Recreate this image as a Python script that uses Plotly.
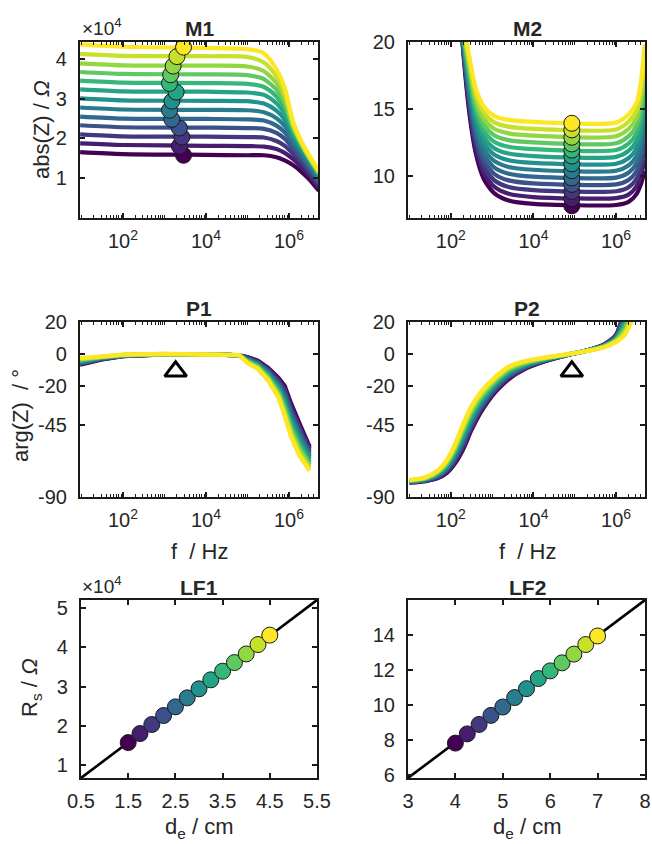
import numpy as np
import plotly.graph_objects as go
from plotly.colors import sample_colorscale

W, H = 652, 844
FONT = "Liberation Sans, Arial, sans-serif"
INK = "#1a1a1a"

# electrode distance (cm) and series resistance read at the marked frequency
de1 = [1.5, 1.75, 2.0, 2.25, 2.5, 2.75, 3.0, 3.25, 3.5, 3.75, 4.0, 4.25, 4.5]
rs1 = [1.57, 1.80, 2.03, 2.26, 2.48, 2.71, 2.94, 3.17, 3.39, 3.61, 3.83, 4.07, 4.31]  # x1e4 Ohm
de2 = [4.0, 4.25, 4.5, 4.75, 5.0, 5.25, 5.5, 5.75, 6.0, 6.25, 6.5, 6.75, 7.0]
rs2 = [7.81, 8.34, 8.88, 9.40, 9.88, 10.42, 10.93, 11.51, 11.95, 12.41, 12.91, 13.46, 13.95]  # Ohm

# frequency (Hz) where Rs was picked
f_rs1 = [2880, 2290, 2630, 2290, 1510, 1320, 1510, 1910, 1320, 1410, 1620, 2000, 2880]
f_rs2 = 8.5e4
f_tri1 = 1.86e3
f_tri2 = 8.5e4
tri_phase = -11

# M1: |Z| (x1e4 Ohm), purple -> yellow
f_m1 = [9.3, 100, 1e4, 1e5, 2.5e5, 5.0e5, 7.9e5, 1.26e6, 2.0e6, 3.16e6, 5.25e6]
m1 = [
    [1.65, 1.60, 1.58, 1.57, 1.57, 1.52, 1.44, 1.32, 1.15, 0.95, 0.67],
    [1.87, 1.83, 1.81, 1.80, 1.79, 1.73, 1.63, 1.47, 1.27, 1.04, 0.75],
    [2.10, 2.05, 2.04, 2.03, 2.02, 1.93, 1.81, 1.61, 1.38, 1.13, 0.82],
    [2.33, 2.28, 2.27, 2.26, 2.24, 2.14, 1.99, 1.74, 1.48, 1.21, 0.88],
    [2.55, 2.50, 2.49, 2.48, 2.45, 2.32, 2.15, 1.85, 1.57, 1.28, 0.93],
    [2.78, 2.73, 2.72, 2.71, 2.66, 2.51, 2.31, 1.96, 1.65, 1.34, 0.98],
    [3.01, 2.96, 2.95, 2.94, 2.88, 2.70, 2.47, 2.06, 1.72, 1.40, 1.03],
    [3.24, 3.19, 3.18, 3.16, 3.10, 2.89, 2.62, 2.15, 1.78, 1.44, 1.07],
    [3.46, 3.41, 3.40, 3.38, 3.30, 3.06, 2.76, 2.21, 1.82, 1.47, 1.09],
    [3.68, 3.63, 3.62, 3.60, 3.50, 3.23, 2.89, 2.27, 1.85, 1.49, 1.12],
    [3.90, 3.85, 3.84, 3.82, 3.70, 3.40, 3.01, 2.32, 1.87, 1.50, 1.14],
    [4.14, 4.09, 4.08, 4.06, 3.92, 3.57, 3.15, 2.37, 1.89, 1.51, 1.15],
    [4.38, 4.32, 4.29, 4.26, 4.15, 3.75, 3.28, 2.42, 1.92, 1.55, 1.17],
]

# M2: |Z| (Ohm)
f_m2 = [141, 200, 282, 398, 631, 1122, 2512, 1e4, 1e6, 2.0e6, 3.16e6, 3.98e6, 4.9e6]
m2 = [
    [26.0, 19.3, 14.7, 11.8, 9.8, 8.75, 8.2, 7.95, 7.87, 8.1, 8.7, 9.4, 10.4],
    [25.8, 19.5, 15.05, 12.2, 10.25, 9.23, 8.7, 8.46, 8.38, 8.64, 9.27, 10.03, 11.2],
    [25.7, 19.6, 15.4, 12.6, 10.7, 9.71, 9.2, 8.97, 8.89, 9.18, 9.83, 10.67, 12.0],
    [25.5, 19.8, 15.75, 13.0, 11.15, 10.19, 9.7, 9.48, 9.40, 9.73, 10.4, 11.3, 12.75],
    [25.3, 20.0, 16.1, 13.4, 11.6, 10.67, 10.2, 9.98, 9.91, 10.27, 10.97, 11.93, 13.5],
    [25.2, 20.1, 16.45, 13.8, 12.05, 11.15, 10.7, 10.49, 10.42, 10.81, 11.53, 12.57, 14.3],
    [25.0, 20.3, 16.8, 14.2, 12.5, 11.63, 11.2, 11.0, 10.94, 11.35, 12.1, 13.2, 15.1],
    [24.8, 20.5, 17.15, 14.6, 12.95, 12.1, 11.7, 11.51, 11.45, 11.89, 12.67, 13.83, 15.9],
    [24.7, 20.6, 17.5, 15.0, 13.4, 12.58, 12.2, 12.02, 11.96, 12.43, 13.23, 14.47, 16.7],
    [24.5, 20.8, 17.85, 15.4, 13.85, 13.06, 12.7, 12.53, 12.47, 12.98, 13.8, 15.1, 17.45],
    [24.3, 21.0, 18.2, 15.8, 14.3, 13.54, 13.2, 13.03, 12.98, 13.52, 14.37, 15.73, 18.2],
    [24.2, 21.1, 18.55, 16.2, 14.75, 14.02, 13.7, 13.54, 13.49, 14.06, 14.93, 16.37, 19.0],
    [24.0, 21.3, 18.9, 16.6, 15.2, 14.5, 14.2, 14.05, 14.0, 14.6, 15.5, 17.0, 19.8],
]

# P1: phase (deg)
f_p1 = [9.3, 31.6, 100, 1e3, 1e4, 6.3e4, 1e5, 1.78e5, 3.16e5, 5.62e5, 7.94e5, 1.12e6, 1.78e6, 3.16e6]
p1 = [
    [-6.9, -3.5, -1.5, -0.3, -0.2, -1.0, -2.0, -4.3, -8.8, -15.2, -20.2, -31.0, -43.5, -58.5],
    [-6.6, -3.3, -1.4, -0.3, -0.2, -1.0, -2.3, -4.7, -9.5, -16.2, -21.8, -32.8, -45.2, -59.8],
    [-6.2, -3.1, -1.3, -0.3, -0.2, -1.0, -2.6, -5.2, -10.1, -17.3, -23.4, -34.5, -46.9, -61.0],
    [-5.9, -3.0, -1.3, -0.2, -0.2, -1.0, -3.0, -5.6, -10.8, -18.3, -25.0, -36.3, -48.6, -62.3],
    [-5.5, -2.8, -1.2, -0.2, -0.2, -0.9, -3.3, -6.0, -11.5, -19.3, -26.6, -38.0, -50.3, -63.5],
    [-5.2, -2.6, -1.1, -0.2, -0.2, -0.9, -3.6, -6.5, -12.1, -20.3, -28.2, -39.8, -52.0, -64.8],
    [-4.8, -2.4, -1.0, -0.2, -0.2, -0.9, -3.9, -6.9, -12.8, -21.4, -29.9, -41.5, -53.8, -66.0],
    [-4.5, -2.2, -0.9, -0.1, -0.2, -0.9, -4.2, -7.3, -13.5, -22.4, -31.5, -43.3, -55.5, -67.3],
    [-4.1, -2.0, -0.8, -0.1, -0.2, -0.9, -4.5, -7.8, -14.1, -23.4, -33.1, -45.0, -57.2, -68.5],
    [-3.8, -1.9, -0.8, -0.1, -0.2, -0.9, -4.9, -8.2, -14.8, -24.4, -34.7, -46.8, -58.9, -69.8],
    [-3.4, -1.7, -0.7, -0.1, -0.2, -0.8, -5.2, -8.6, -15.5, -25.5, -36.3, -48.5, -60.6, -71.0],
    [-3.1, -1.5, -0.6, 0.0, -0.2, -0.8, -5.5, -9.1, -16.1, -26.5, -37.9, -50.3, -62.3, -72.3],
    [-2.7, -1.3, -0.5, 0.0, -0.2, -0.8, -5.8, -9.5, -16.8, -27.5, -39.5, -52.0, -64.0, -73.5],
]

# P2: phase (deg)
f_p2 = [10, 25.1, 50.1, 79.4, 125.9, 199.5, 316.2, 501.2, 794.3, 1259, 2512, 6310,
        19953, 63096, 199526, 501187, 1e6, 1.585e6, 2.512e6]
p2 = [
    [-81.0, -80.0, -78.0, -75.0, -69.0, -60.0, -48.0, -38.0, -30.0, -23.5, -16.0, -9.5, -4.5, -1.0, 2.2, 5.8, 12.0, 27.0, 40.0],
    [-80.9, -79.8, -77.6, -74.3, -68.0, -58.7, -46.8, -36.9, -29.1, -22.7, -15.3, -9.1, -4.3, -0.9, 2.2, 5.7, 11.6, 25.7, 38.5],
    [-80.7, -79.6, -77.2, -73.7, -67.0, -57.3, -45.5, -35.8, -28.2, -21.9, -14.7, -8.7, -4.1, -0.9, 2.1, 5.5, 11.3, 24.4, 37.0],
    [-80.6, -79.4, -76.8, -73.0, -66.0, -56.0, -44.3, -34.8, -27.3, -21.1, -14.0, -8.3, -3.9, -0.8, 2.1, 5.4, 10.9, 23.1, 35.5],
    [-80.4, -79.2, -76.3, -72.3, -65.0, -54.7, -43.0, -33.7, -26.3, -20.3, -13.3, -7.8, -3.7, -0.8, 2.1, 5.2, 10.5, 21.8, 34.0],
    [-80.3, -79.0, -75.9, -71.7, -64.0, -53.3, -41.8, -32.6, -25.4, -19.5, -12.7, -7.4, -3.5, -0.7, 2.0, 5.1, 10.1, 20.5, 32.5],
    [-80.2, -78.8, -75.5, -71.0, -63.0, -52.0, -40.5, -31.5, -24.5, -18.8, -12.0, -7.0, -3.4, -0.7, 2.0, 4.9, 9.8, 19.3, 31.0],
    [-80.0, -78.5, -75.1, -70.3, -62.0, -50.7, -39.3, -30.4, -23.6, -18.0, -11.3, -6.6, -3.2, -0.6, 2.0, 4.8, 9.4, 18.0, 29.5],
    [-79.9, -78.3, -74.7, -69.7, -61.0, -49.3, -38.0, -29.3, -22.7, -17.2, -10.7, -6.2, -3.0, -0.5, 1.9, 4.6, 9.0, 16.7, 28.0],
    [-79.7, -78.1, -74.3, -69.0, -60.0, -48.0, -36.8, -28.3, -21.8, -16.4, -10.0, -5.8, -2.8, -0.5, 1.9, 4.5, 8.6, 15.4, 26.5],
    [-79.6, -77.9, -73.8, -68.3, -59.0, -46.7, -35.5, -27.2, -20.8, -15.6, -9.3, -5.3, -2.6, -0.4, 1.9, 4.3, 8.3, 14.1, 25.0],
    [-79.4, -77.7, -73.4, -67.7, -58.0, -45.3, -34.3, -26.1, -19.9, -14.8, -8.7, -4.9, -2.4, -0.4, 1.8, 4.2, 7.9, 12.8, 23.5],
    [-79.3, -77.5, -73.0, -67.0, -57.0, -44.0, -33.0, -25.0, -19.0, -14.0, -8.0, -4.5, -2.2, -0.3, 1.8, 4.0, 7.5, 11.5, 22.0],
]

log_ticks = [1e2, 1e4, 1e6]
log_ticktext = ["10<sup>2</sup>", "10<sup>4</sup>", "10<sup>6</sup>"]
phase_ticks = [-90, -45, -20, 0, 20]
phase_ticktext = ["-90", "-45", "-20", "0", "20"]

colors = sample_colorscale("Viridis", [i / 12 for i in range(13)])

fig = go.Figure()


def add_curves(rows, freqs, n, scale=1.0, shape="spline"):
    for i, row in enumerate(rows):
        fig.add_trace(go.Scatter(
            x=freqs, y=[v * scale for v in row], mode="lines",
            line=dict(color=colors[i], width=4.2, shape=shape, smoothing=0.7),
            xaxis="x" + n, yaxis="y" + n, showlegend=False, hoverinfo="skip"))


add_curves(m1, f_m1, "", scale=1e4)
add_curves(m2, f_m2, "2")
add_curves(p1, f_p1, "3", shape="linear")
add_curves(p2, f_p2, "4")

marker_style = dict(size=16, line=dict(color=INK, width=1))

# picked points on the magnitude plots
fig.add_trace(go.Scatter(x=f_rs1, y=[v * 1e4 for v in rs1], mode="markers",
                         marker=dict(color=colors, **marker_style), showlegend=False))
fig.add_trace(go.Scatter(x=[f_rs2] * len(rs2), y=rs2, mode="markers", xaxis="x2", yaxis="y2",
                         marker=dict(color=colors, **marker_style), showlegend=False))

# triangles on the phase plots
for n, f in (("3", f_tri1), ("4", f_tri2)):
    fig.add_trace(go.Scatter(x=[f], y=[tri_phase], mode="markers", xaxis="x" + n, yaxis="y" + n,
                             marker=dict(symbol="triangle-up-open", size=19, color="black",
                                         line=dict(color="black", width=3)),
                             showlegend=False))

# linear fits
fit_ranges = {}
for n, de, rs, scale, xr in (("5", de1, rs1, 1e4, [0.5, 5.5]), ("6", de2, rs2, 1.0, [3, 8])):
    k, b = np.polyfit(de, rs, 1)
    yr = [(k * xr[0] + b) * scale, (k * xr[1] + b) * scale]
    fit_ranges[n] = yr
    fig.add_trace(go.Scatter(x=xr, y=yr, mode="lines", line=dict(color="black", width=2.6),
                             xaxis="x" + n, yaxis="y" + n, showlegend=False))
    fig.add_trace(go.Scatter(x=de, y=[v * scale for v in rs], mode="markers",
                             xaxis="x" + n, yaxis="y" + n,
                             marker=dict(color=colors, **marker_style), showlegend=False))

# axes boxes in pixels: x0, x1, y0, y1
boxes = {
    "": (80, 318, 42, 218),
    "2": (408, 645, 42, 218),
    "3": (80, 318, 322, 497),
    "4": (408, 645, 322, 497),
    "5": (81, 317, 600, 778),
    "6": (408, 645, 600, 778),
}

base = dict(showline=True, linewidth=2.2, linecolor=INK, mirror="allticks",
            ticks="inside", ticklen=5, tickwidth=1.5, tickcolor=INK,
            showgrid=False, zeroline=False, automargin=False,
            tickfont=dict(family=FONT, size=20, color="#262626"))

minor_vals = [m * 10 ** e for e in range(0, 7) for m in range(1, 10)]
log_axis = dict(type="log", range=[0.965, 6.70], tickvals=log_ticks, ticktext=log_ticktext,
                minor=dict(ticks="inside", ticklen=2.5, tickwidth=1, tickcolor=INK,
                           tickmode="array", tickvals=minor_vals),
                ticklabelstandoff=4)

y_specs = {
    "": dict(range=[-0.02e4, 4.44e4], tickvals=[1e4, 2e4, 3e4, 4e4], ticktext=["1", "2", "3", "4"]),
    "2": dict(range=[6.9, 20], tickvals=[10, 15, 20]),
    "3": dict(range=[-90, 20], tickvals=phase_ticks, ticktext=phase_ticktext),
    "4": dict(range=[-90, 20], tickvals=phase_ticks, ticktext=phase_ticktext),
    "5": dict(range=fit_ranges["5"], tickvals=[1e4, 2e4, 3e4, 4e4, 5e4],
              ticktext=["1", "2", "3", "4", "5"]),
    "6": dict(range=fit_ranges["6"], tickvals=[6, 8, 10, 12, 14]),
}
x_specs = {
    "": log_axis, "2": log_axis, "3": log_axis, "4": log_axis,
    "5": dict(range=[0.5, 5.5], tickvals=[0.5, 1.5, 2.5, 3.5, 4.5, 5.5],
              ticktext=["0.5", "1.5", "2.5", "3.5", "4.5", "5.5"], ticklabelstandoff=4),
    "6": dict(range=[3, 8], tickvals=[3, 4, 5, 6, 7, 8], ticklabelstandoff=4),
}

layout = dict(width=W, height=H, margin=dict(l=0, r=0, t=0, b=0, autoexpand=False),
              paper_bgcolor="white", plot_bgcolor="white", showlegend=False)
for n, (x0, x1, y0, y1) in boxes.items():
    layout["xaxis" + n] = dict(base, domain=[x0 / W, x1 / W], anchor="y" + n, **x_specs[n])
    layout["yaxis" + n] = dict(base, domain=[1 - y1 / H, 1 - y0 / H], anchor="x" + n,
                               ticklabelstandoff=7, **y_specs[n])
fig.update_layout(**layout)


def note(text, px, py, size=22, angle=0, xanchor="center"):
    fig.add_annotation(text=text, x=px / W, y=1 - py / H, xref="paper", yref="paper",
                       showarrow=False, textangle=angle, xanchor=xanchor, yanchor="middle",
                       font=dict(family=FONT, size=size, color="#262626"))


for label, px, py in (("M1", 199, 28), ("M2", 527, 28), ("P1", 199, 308),
                      ("P2", 527, 308), ("LF1", 199, 587), ("LF2", 527, 587)):
    note("<b>" + label + "</b>", px, py, size=21)

note("×10<sup>4</sup>", 80, 27, size=19, xanchor="left")
note("×10<sup>4</sup>", 80, 585, size=19, xanchor="left")

note("abs(Z) / <i>Ω</i>", 42, 130, angle=-90)
note("arg(Z)  / °", 20, 416, angle=-90)
note("R<sub>s</sub> / <i>Ω</i>", 31, 688, angle=-90)
note("f  / Hz", 199, 551)
note("f  / Hz", 527, 551)
note("d<sub>e</sub> / cm", 199, 828)
note("d<sub>e</sub> / cm", 527, 828)

# the page's default body margin would push the fixed-size figure off the window
fig.write_html("out.html", config={"displayModeBar": False},
               post_script="document.body.style.margin='0';")
